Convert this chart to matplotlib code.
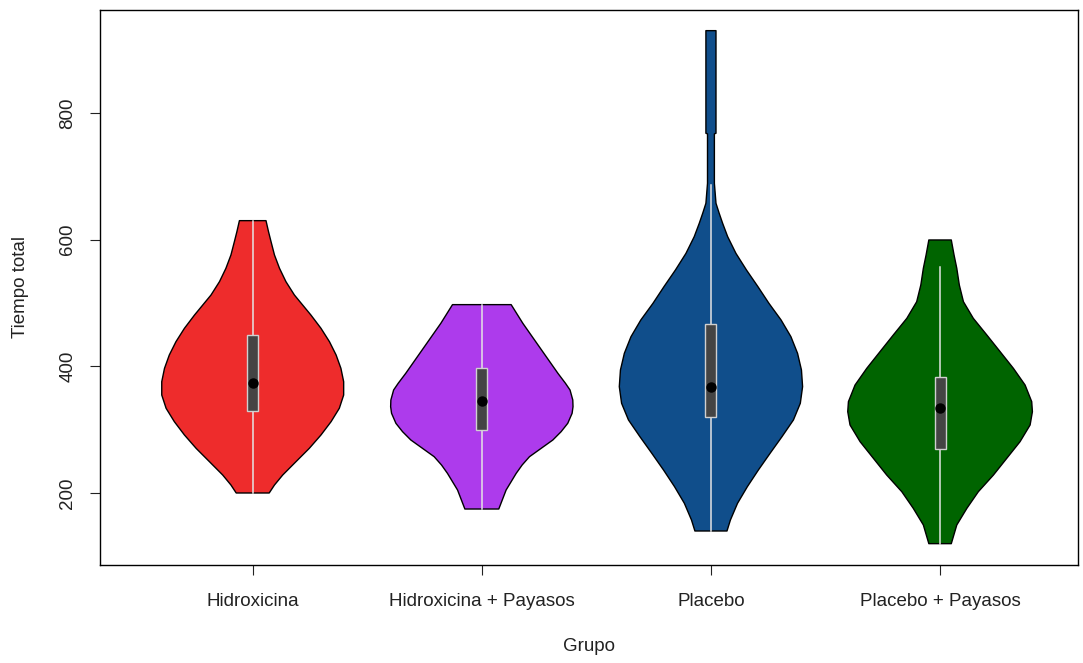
import matplotlib
matplotlib.use("Agg")
import matplotlib.pyplot as plt
import numpy as np

plt.rcParams['font.family'] = ['Liberation Sans', 'DejaVu Sans']

# Groups and fill colours
grupos = ["Hidroxicina", "Hidroxicina + Payasos", "Placebo", "Placebo + Payasos"]
colores = ["#EE2C2C", "#AD3BEC", "#104E8B", "#006400"]

# Violin outlines: y level (tiempo total) and half-width of the density (x units)
y_hidroxicina = [630, 612.6, 596.8, 575.8, 554.7, 533.7, 512.6, 496.8, 481, 460,
                 438.9, 417.9, 396.8, 375.7, 354.7, 333.7, 312.6, 291.6, 270.5,
                 249.5, 228.4, 212.6, 200]
w_hidroxicina = [0.058, 0.069, 0.080, 0.095, 0.117, 0.145, 0.182, 0.218, 0.254, 0.298,
                 0.335, 0.364, 0.385, 0.397, 0.397, 0.378, 0.342, 0.298, 0.247,
                 0.189, 0.131, 0.095, 0.072]

y_hidrox_pay = [497.4, 467.9, 441.6, 415.3, 389, 373.2, 362.6, 346.8, 336.3, 325.8,
                310, 296.8, 283.7, 270.5, 257.3, 244.2, 231, 204.7, 174.7]
w_hidrox_pay = [0.128, 0.179, 0.230, 0.281, 0.332, 0.365, 0.385, 0.397, 0.398, 0.394,
                0.375, 0.346, 0.310, 0.259, 0.208, 0.176, 0.150, 0.106, 0.074]

y_placebo = [930, 768, 767, 689, 657.4, 641.6, 625.8, 604.7, 578.4, 552.1, 525.8,
             499.5, 473.2, 446.8, 420.5, 394.2, 367.9, 341.6, 315.3, 288.9, 262.6,
             236.3, 210, 183.7, 157.4, 140]
w_placebo = [0.022, 0.022, 0.015, 0.015, 0.022, 0.036, 0.051, 0.073, 0.109, 0.155, 0.205,
             0.253, 0.306, 0.349, 0.378, 0.395, 0.400, 0.390, 0.360, 0.310, 0.258,
             0.207, 0.159, 0.116, 0.085, 0.070]

y_placebo_pay = [599.5, 575.8, 554.7, 528.4, 502, 475.8, 449.5, 423.2, 396.8, 370.5,
                 344.2, 328.4, 307.4, 281, 254.7, 228.4, 202, 175.8, 149.5, 120]
w_placebo_pay = [0.049, 0.061, 0.073, 0.084, 0.102, 0.145, 0.204, 0.262, 0.320, 0.371,
                 0.400, 0.403, 0.393, 0.349, 0.291, 0.233, 0.167, 0.117, 0.073, 0.049]

perfiles_y = [y_hidroxicina, y_hidrox_pay, y_placebo, y_placebo_pay]
perfiles_w = [w_hidroxicina, w_hidrox_pay, w_placebo, w_placebo_pay]

# Box summaries
bigote_inf = [200, 174.7, 140, 119]
q1 = [330, 299.5, 320.5, 269]
mediana = [374, 345.3, 367.6, 333.7]
q3 = [449.5, 397.4, 466.8, 383.6]
bigote_sup = [630, 497.4, 686, 557.4]

fig = plt.figure(figsize=(10.83, 6.63), dpi=100)
ax = fig.add_axes([100 / 1083, 1 - 565 / 663, 978 / 1083, 555 / 663])

caja_w = 0.024
for i, (ys, ws, col) in enumerate(zip(perfiles_y, perfiles_w, colores)):
    pos = i + 1
    ys = np.asarray(ys)
    ws = np.asarray(ws)
    xs = np.concatenate([pos - ws, (pos + ws)[::-1]])
    yy = np.concatenate([ys, ys[::-1]])
    ax.fill(xs, yy, facecolor=col, edgecolor="black", linewidth=1.0,
            joinstyle="round", zorder=2)
    ax.plot([pos, pos], [bigote_inf[i], bigote_sup[i]], color="#E4E4E4",
            linewidth=1.1, zorder=3)
    ax.add_patch(plt.Rectangle((pos - caja_w, q1[i]), 2 * caja_w, q3[i] - q1[i],
                               facecolor="#444444", edgecolor="#D0D0D0",
                               linewidth=1.0, zorder=4))
    ax.plot([pos], [mediana[i]], "o", color="black", markersize=6.5, zorder=5)

ax.set_xlim(0.3335, 4.602)
ax.set_ylim(86.3, 962.6)
ax.set_xticks([1, 2, 3, 4])
ax.set_xticklabels(grupos)
ax.set_yticks([200, 400, 600, 800])
ax.set_yticklabels(["200", "400", "600", "800"], rotation=90, va="center")

for s in ax.spines.values():
    s.set_linewidth(1.0)
    s.set_color("black")

ax.tick_params(axis="both", length=7, width=0.8, labelsize=13.5, colors="#222222")
ax.tick_params(axis="x", pad=13)
ax.tick_params(axis="y", pad=10)

ax.set_xlabel("Grupo", fontsize=13.5, color="#222222", labelpad=20)
ax.set_ylabel("Tiempo total", fontsize=13.5, color="#222222", labelpad=22)

fig.savefig("out.png", dpi=100, facecolor="white")
